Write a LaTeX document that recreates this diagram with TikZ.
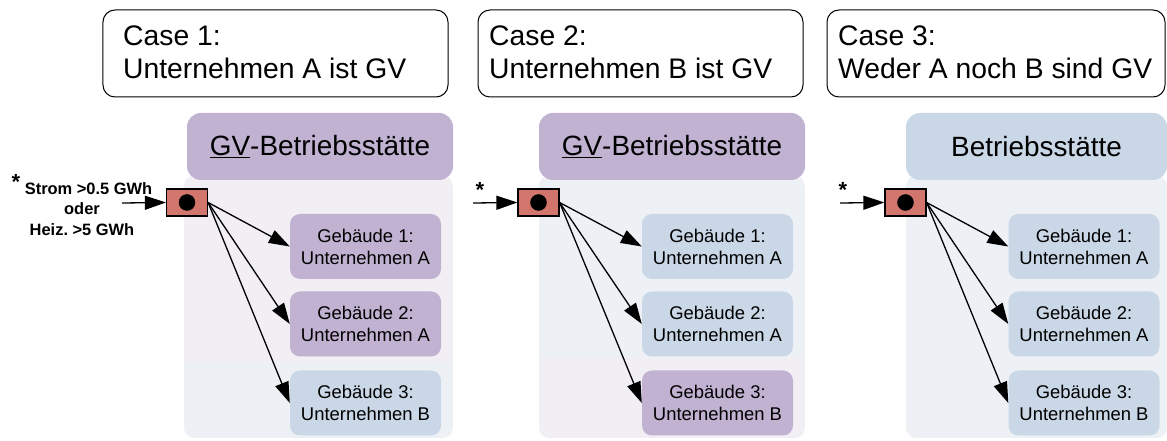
\documentclass[tikz,border=0pt]{standalone}
\usepackage{fontspec}
\setmainfont{Liberation Sans}
\usepackage{xcolor}
\usetikzlibrary{arrows.meta}
\frenchspacing

\definecolor{gvlila}{HTML}{C1B2D2}
\definecolor{hellblau}{HTML}{C9D7E6}
\definecolor{lilatint}{HTML}{F1EEF4}
\definecolor{blautint}{HTML}{EDF1F6}
\definecolor{zaehler}{HTML}{D1756D}

\tikzset{
	casebox/.style = {draw, rounded corners=12bp, minimum height=87bp, line width=1bp},
	casetext/.style = {anchor=west, align=left, inner sep=0pt, font=\fontsize{28.4}{33}\selectfont},
	headbox/.style = {rounded corners=14bp, minimum width=266bp, minimum height=67bp, font=\fontsize{28}{33}\selectfont},
	gebbox/.style = {rounded corners=10bp, minimum width=151bp, minimum height=65bp, align=center, font=\fontsize{18.5}{22}\selectfont},
	meter/.style = {draw, fill=zaehler, minimum width=41bp, minimum height=27bp, line width=1.2bp, inner sep=0pt},
	stern/.style = {font=\bfseries\fontsize{22}{22}\selectfont, inner sep=0pt}
}

\begin{document}
\begin{tikzpicture}[x=1bp, y=-1bp]
		\tikzset{> = {Triangle[length=21bp, width=14bp]}}
		\useasboundingbox (0,0) rectangle (1167,441);

		% Case 1
		\node[casebox, minimum width=345bp] (case1) at (275.5,53.5){};
		\node[casetext] (case1t) at (123,52){Case 1:\\Unternehmen A ist GV};
		\begin{scope}
			\clip[rounded corners=10bp] (184,176) rectangle (453,438);
			\fill[blautint] (184,176) rectangle (453,438);
			\fill[lilatint] (184,176) rectangle (453,362);
		\end{scope}
		\node[headbox, fill=gvlila] (head1) at (320,146.5){\underline{GV}-Betriebsst\"atte};
		\node[gebbox, fill=gvlila] (g11) at (365.5,246.5){Geb\"aude 1:\\Unternehmen A};
		\node[gebbox, fill=gvlila] (g12) at (365.5,324){Geb\"aude 2:\\Unternehmen A};
		\node[gebbox, fill=hellblau] (g13) at (365.5,403){Geb\"aude 3:\\Unternehmen B};
		\node[meter] (mess1) at (187,202.5){};
		\filldraw (mess1) circle (8bp);
		\node[align=center, font=\bfseries\fontsize{16.5}{21}\selectfont] (grenze) at (82,205)
			{\raisebox{5bp}{\fontsize{22}{22}\selectfont*} Strom >0.5 GWh\\oder\\Heiz. >5 GWh};
		\coordinate (in1) at (122,203);
		\draw[->, line width=1.3bp] (in1) -- (mess1.west);
		\draw[->, line width=1.3bp] (mess1.east) -- (g11.west);
		\draw[->, line width=1.3bp] (mess1.east) -- (g12.west);
		\draw[->, line width=1.3bp] (mess1.east) -- (g13.west);

		% Case 2
		\node[casebox, minimum width=325bp] (case2) at (640.5,53.5){};
		\node[casetext] (case2t) at (489,52){Case 2:\\Unternehmen B ist GV};
		\begin{scope}
			\clip[rounded corners=10bp] (539,176) rectangle (805,438);
			\fill[lilatint] (539,176) rectangle (805,438);
			\fill[blautint] (539,176) rectangle (805,358);
		\end{scope}
		\node[headbox, fill=gvlila] (head2) at (672,146.5){\underline{GV}-Betriebsst\"atte};
		\node[gebbox, fill=hellblau] (g21) at (717.5,246.5){Geb\"aude 1:\\Unternehmen A};
		\node[gebbox, fill=hellblau] (g22) at (717.5,324){Geb\"aude 2:\\Unternehmen A};
		\node[gebbox, fill=gvlila] (g23) at (717.5,403){Geb\"aude 3:\\Unternehmen B};
		\node[meter] (mess2) at (538.5,202.5){};
		\filldraw (mess2) circle (8bp);
		\node[stern] (stern2) at (480,190){*};
		\coordinate (in2) at (473,203);
		\draw[->, line width=1.3bp] (in2) -- (mess2.west);
		\draw[->, line width=1.3bp] (mess2.east) -- (g21.west);
		\draw[->, line width=1.3bp] (mess2.east) -- (g22.west);
		\draw[->, line width=1.3bp] (mess2.east) -- (g23.west);

		% Case 3
		\node[casebox, minimum width=338bp] (case3) at (996,53.5){};
		\node[casetext] (case3t) at (838,52){Case 3:\\Weder A noch B sind GV};
		\fill[blautint, rounded corners=10bp] (906,176) rectangle (1167,438);
		\node[headbox, minimum width=261bp, fill=hellblau] (head3) at (1036.5,146.5){Betriebsst\"atte};
		\node[gebbox, fill=hellblau] (g31) at (1084,246.5){Geb\"aude 1:\\Unternehmen A};
		\node[gebbox, fill=hellblau] (g32) at (1084,324){Geb\"aude 2:\\Unternehmen A};
		\node[gebbox, fill=hellblau] (g33) at (1084,403){Geb\"aude 3:\\Unternehmen B};
		\node[meter] (mess3) at (905.5,202.5){};
		\filldraw (mess3) circle (8bp);
		\node[stern] (stern3) at (843,190){*};
		\coordinate (in3) at (840,203);
		\draw[->, line width=1.3bp] (in3) -- (mess3.west);
		\draw[->, line width=1.3bp] (mess3.east) -- (g31.west);
		\draw[->, line width=1.3bp] (mess3.east) -- (g32.west);
		\draw[->, line width=1.3bp] (mess3.east) -- (g33.west);
	\end{tikzpicture}
\end{document}
